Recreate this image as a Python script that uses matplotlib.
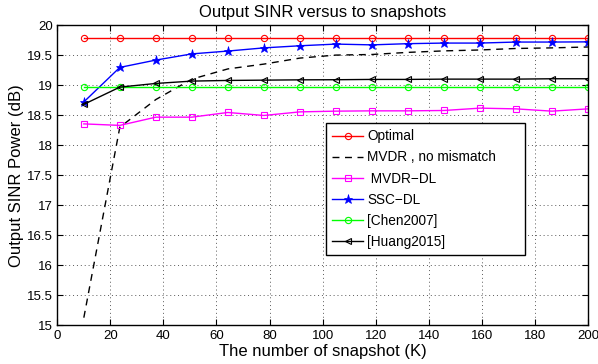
import numpy as np
import matplotlib
matplotlib.use("Agg")
import matplotlib.pyplot as plt

plt.rcParams['font.family'] = ['Liberation Sans', 'DejaVu Sans']

# Number of snapshots K
snapshots = [10, 23.57, 37.14, 50.71, 64.29, 77.86, 91.43, 105.0,
             118.57, 132.14, 145.71, 159.29, 172.86, 186.43, 200.0]

sinr_optimal = [19.79] * 15
sinr_mvdr_ideal = [15.13, 18.30, 18.76, 19.10, 19.27, 19.35, 19.45, 19.50,
                   19.51, 19.545, 19.57, 19.585, 19.61, 19.62, 19.635]
sinr_mvdr_dl = [18.355, 18.33, 18.467, 18.467, 18.545, 18.495, 18.555, 18.567,
                18.572, 18.572, 18.578, 18.617, 18.605, 18.567, 18.605]
sinr_ssc_dl = [18.72, 19.295, 19.417, 19.52, 19.567, 19.62, 19.655, 19.683,
               19.67, 19.69, 19.70, 19.70, 19.717, 19.717, 19.72]
sinr_chen = [18.97] * 15
sinr_huang = [18.68, 18.967, 19.028, 19.067, 19.078, 19.083, 19.088, 19.09,
              19.095, 19.095, 19.10, 19.10, 19.10, 19.106, 19.106]

labels = ["Optimal", "MVDR , no mismatch", " MVDR\u2212DL", "SSC\u2212DL",
          "[Chen2007]", "[Huang2015]"]

fig = plt.figure(figsize=(5.98, 3.64), dpi=100)
ax = fig.add_axes([0.0958, 0.1058, 0.8874, 0.8254])

ms = 4.5
ax.plot(snapshots, sinr_optimal, color='#ff0000', lw=1.0, marker='o', ms=ms,
        mfc='none', mec='#ff0000', mew=0.8, label=labels[0])
ax.plot(snapshots, sinr_mvdr_ideal, color='k', lw=1.0, ls=(0, (5, 4)),
        label=labels[1])
ax.plot(snapshots, sinr_mvdr_dl, color='#ff00ff', lw=1.0, marker='s', ms=ms,
        mfc='none', mec='#ff00ff', mew=0.8, label=labels[2])
ax.plot(snapshots, sinr_ssc_dl, color='#0000ff', lw=1.0, marker='*', ms=6.5,
        mfc='#0000ff', mec='#0000ff', mew=0.5, label=labels[3])
ax.plot(snapshots, sinr_chen, color='#00ff00', lw=1.0, marker='o', ms=ms,
        mfc='none', mec='#00ff00', mew=0.8, label=labels[4])
ax.plot(snapshots, sinr_huang, color='k', lw=1.0, marker='<', ms=ms,
        mfc='none', mec='k', mew=0.8, label=labels[5])

ax.set_xlim(0, 200)
ax.set_ylim(15, 20)
ax.set_xticks(np.arange(0, 201, 20))
ax.set_yticks(np.arange(15, 20.01, 0.5))
ax.set_yticklabels(['15', '15.5', '16', '16.5', '17', '17.5', '18', '18.5',
                    '19', '19.5', '20'])
ax.tick_params(direction='in', top=True, right=True, length=4, width=0.8,
               labelsize=9.5, pad=3)
ax.grid(True, ls=(0, (1, 3)), color='0.35', lw=0.7)
for s in ax.spines.values():
    s.set_linewidth(1.0)

ax.set_title("Output SINR versus to snapshots", fontsize=12, pad=6)
ax.set_xlabel("The number of snapshot (K)", fontsize=12, labelpad=2)
ax.set_ylabel("Output SINR Power (dB)", fontsize=12, labelpad=2)

leg = ax.legend(loc='upper left', bbox_to_anchor=(0.506, 0.673, 0.376, 0.0),
                mode='expand', fontsize=9.8,
                frameon=True, fancybox=False, edgecolor='k', framealpha=1,
                handlelength=2.3, handletextpad=0.3, labelspacing=0.52,
                borderpad=0.45, borderaxespad=0)
leg.get_frame().set_linewidth(1.0)

fig.savefig("out.png", dpi=100)
